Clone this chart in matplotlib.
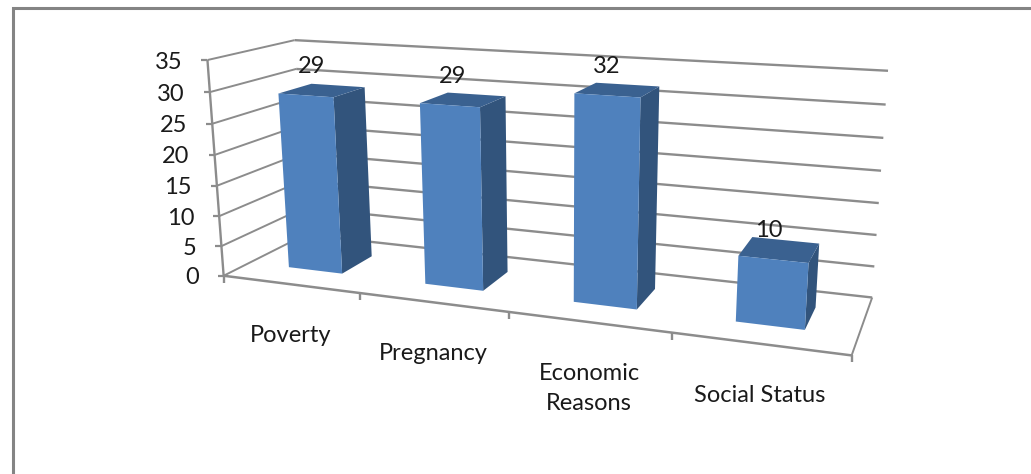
import matplotlib

matplotlib.use("Agg")
import matplotlib.pyplot as plt
import numpy as np
from matplotlib.patches import Polygon

categories = ["Poverty", "Pregnancy", "Economic\nReasons", "Social Status"]
values = [29, 29, 32, 10]
y_ticks = [0, 5, 10, 15, 20, 25, 30, 35]

WIDTH, HEIGHT = 1031, 474
BAR_GAP = 0.30
BAR_DEPTH_GAP = 0.30
GRID = "#8c8c8c"
TEXT = "#1a1a1a"

# camera fit: (category, depth, value) -> pixel, from the corners of the chart box
box_points = [
    (0, 0, 0, 223, 275), (0, 0, 35, 208, 60), (0, 1, 0, 306, 235), (0, 1, 35, 294, 40),
    (4, 1, 0, 872, 297), (4, 1, 35, 888, 71), (4, 0, 0, 852, 355),
    (1, 0, 0, 361, 293), (2, 0, 0, 509, 313), (3, 0, 0, 672, 333),
    (4, 1, 15, 879, 203),
]


def fit_camera(points):
    rows = []
    for u, v, z, px, py in points:
        world = [u, v, z / 35, 1]
        rows.append(world + [0, 0, 0, 0] + [-px * w for w in world])
        rows.append([0, 0, 0, 0] + world + [-py * w for w in world])
    return np.linalg.svd(np.array(rows, dtype=float))[2][-1].reshape(3, 4)


camera = fit_camera(box_points)


def project(u, v, z):
    x, y, w = camera @ np.array([u, v, z / 35, 1.0])
    return x / w, y / w


figure = plt.figure(figsize=(WIDTH / 100, HEIGHT / 100), dpi=100)
axis = figure.add_axes([0, 0, 1, 1])
axis.set_xlim(0, WIDTH)
axis.set_ylim(HEIGHT, 0)
axis.axis("off")

# outer frame, only top and left are visible
axis.plot([12.5, 12.5, WIDTH], [HEIGHT, 7.5, 7.5], color="#848484", linewidth=2.2, solid_joinstyle="miter")


def line(a, b, width=1.5):
    axis.plot([a[0], b[0]], [a[1], b[1]], color=GRID, linewidth=width, solid_capstyle="butt")


# gridlines on both walls, with value ticks
for tick in y_ticks:
    line(project(0, 0, tick), project(0, 1, tick), 1.4)
    line(project(0, 1, tick), project(4, 1, tick), 1.7)
    px, py = project(0, 0, tick)
    line((px - 6, py), (px, py), 1.6)
    axis.text(px - 25, py + 2, str(tick), ha="right", va="center", fontsize=17, family="Lato", color=TEXT)

# axis box
line(project(0, 0, 0), project(0, 0, 35), 1.7)
line(project(0, 0, 0), project(4, 0, 0), 1.8)
line(project(4, 0, 0), project(4, 1, 0), 1.4)
for i in range(len(categories) + 1):
    px, py = project(i, 0, 0)
    line((px, py), (px, py + 7), 1.7)

for i, (name, value) in enumerate(zip(categories, values)):
    u0, u1 = i + BAR_GAP, i + 1 - BAR_GAP
    v0, v1 = BAR_DEPTH_GAP, 1 - BAR_DEPTH_GAP
    front = [project(u0, v0, 0), project(u1, v0, 0), project(u1, v0, value), project(u0, v0, value)]
    side = [project(u1, v0, 0), project(u1, v1, 0), project(u1, v1, value), project(u1, v0, value)]
    top = [project(u0, v0, value), project(u1, v0, value), project(u1, v1, value), project(u0, v1, value)]
    axis.add_patch(Polygon(side, closed=True, facecolor="#32547c", edgecolor="none", zorder=3))
    axis.add_patch(Polygon(top, closed=True, facecolor="#3a6190", edgecolor="none", zorder=3))
    axis.add_patch(Polygon(front, closed=True, facecolor="#4f81bd", edgecolor="none", zorder=4))

    tx = project(i + 0.5, 0.5, value)[0]
    ty = project(i + 0.5, v0, value)[1]
    axis.text(tx - 11, ty - 29, str(value), ha="center", va="center", fontsize=17, family="Lato", color=TEXT, zorder=5)

    lx, ly = project(i + 0.5, 0, 0)
    axis.text(lx, ly + 41, name, ha="center", va="top", fontsize=17, family="Lato", color=TEXT, linespacing=1.55)

figure.savefig("out.png", dpi=100)
plt.close(figure)
